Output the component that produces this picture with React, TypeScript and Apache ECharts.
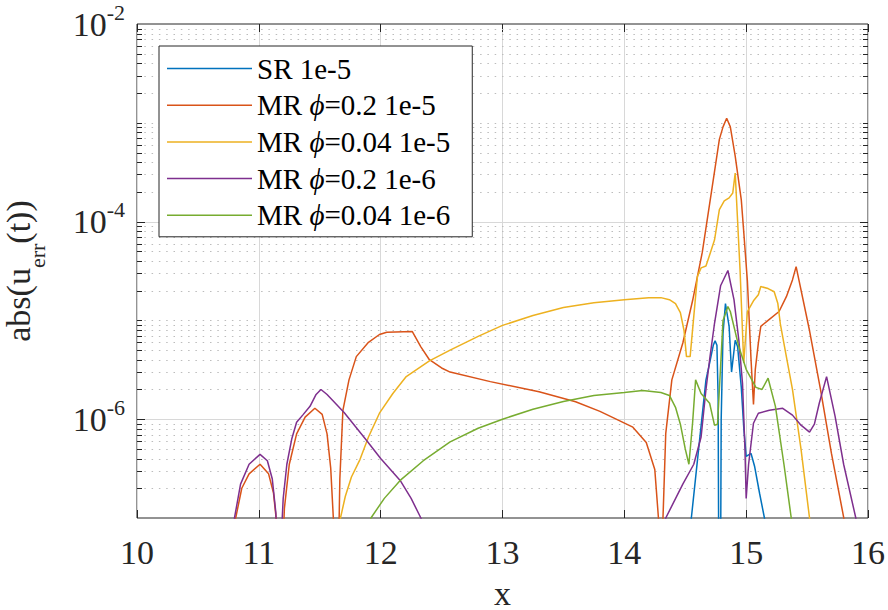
import React, { useEffect, useRef } from 'react';
import * as echarts from 'echarts';

const FONT = "'Liberation Serif', 'DejaVu Serif', serif";

const seriesNames = ['SR 1e-5', 'MR ϕ=0.2 1e-5', 'MR ϕ=0.04 1e-5', 'MR ϕ=0.2 1e-6', 'MR ϕ=0.04 1e-6'];
const seriesColors = ['#0072BD', '#D95319', '#EDB120', '#7E2F8E', '#77AC30'];
const xTickValues = [10, 11, 12, 13, 14, 15, 16];
const yLabelledDecades = [-6, -4, -2];

const srData: [number, number][] = [
  [14.53, 5e-8], [14.55, 1e-7], [14.61, 5e-7], [14.67, 2.5e-6], [14.7, 3.7e-6], [14.73, 5.6e-6],
  [14.745, 6.2e-6], [14.76, 5.6e-6], [14.77, 1.6e-6], [14.775, 3.2e-8], [14.79, 3.2e-8], [14.795, 1e-6],
  [14.81, 7.4e-6], [14.83, 1.48e-5], [14.86, 8.7e-6], [14.88, 3.0e-6], [14.91, 6.3e-6], [14.93, 5.4e-6],
  [14.96, 2.1e-6], [14.98, 8.3e-7], [15.0, 4.2e-7], [15.04, 4.5e-7], [15.07, 3.3e-7], [15.11, 1.78e-7],
  [15.15, 1e-7], [15.17, 6.3e-8],
];

const mr02e5Data: [number, number][] = [
  [10.78, 3.2e-8], [10.81, 1e-7], [10.86, 2.0e-7], [10.92, 2.8e-7], [11.01, 3.5e-7], [11.08, 2.8e-7],
  [11.12, 1.8e-7], [11.15, 8e-8], [11.17, 1.6e-8], [11.19, 3.2e-8], [11.21, 1.26e-7], [11.25, 3.5e-7],
  [11.31, 7.1e-7], [11.38, 1.05e-6], [11.46, 1.29e-6], [11.52, 1.12e-6], [11.56, 7.1e-7], [11.59, 3.2e-7],
  [11.62, 6.3e-8], [11.635, 1e-8], [11.655, 5e-8], [11.665, 2.5e-7], [11.69, 1.23e-6], [11.74, 2.5e-6],
  [11.8, 4.3e-6], [11.9, 6.0e-6], [11.99, 7.2e-6], [12.05, 7.6e-6], [12.26, 7.7e-6], [12.33, 5.4e-6],
  [12.4, 4.0e-6], [12.5, 3.3e-6], [12.57, 3.0e-6], [12.9, 2.4e-6], [13.3, 1.9e-6], [13.6, 1.5e-6],
  [13.8, 1.2e-6], [14.07, 8.3e-7], [14.18, 5.8e-7], [14.25, 3.1e-7], [14.28, 1e-7], [14.3, 2.5e-8],
  [14.32, 1.26e-7], [14.34, 7.2e-7], [14.39, 2.5e-6], [14.48, 5.9e-6], [14.56, 1.58e-5], [14.64, 4.9e-5],
  [14.72, 2.2e-4], [14.78, 6.8e-4], [14.81, 9.1e-4], [14.84, 1.11e-3], [14.87, 9.1e-4], [14.91, 4.6e-4],
  [14.96, 1.66e-4], [14.98, 7.9e-5], [15.01, 2.5e-5], [15.04, 4.0e-6], [15.06, 1.41e-6], [15.075, 3.2e-6],
  [15.1, 5.9e-6], [15.12, 8.7e-6], [15.18, 1.0e-5], [15.27, 1.23e-5], [15.33, 1.74e-5], [15.38, 2.57e-5],
  [15.41, 3.5e-5], [15.52, 7.9e-6], [15.61, 2.0e-6], [15.7, 4.5e-7], [15.8, 1.02e-7], [15.84, 5e-8],
];

const mr004e5Data: [number, number][] = [
  [11.655, 5e-8], [11.67, 1e-7], [11.71, 1.66e-7], [11.76, 2.6e-7], [11.83, 3.9e-7], [11.9, 6.6e-7],
  [11.99, 1.15e-6], [12.1, 1.82e-6], [12.21, 2.7e-6], [12.4, 3.9e-6], [12.57, 5.0e-6], [12.8, 6.9e-6],
  [13.0, 8.9e-6], [13.25, 1.12e-5], [13.5, 1.35e-5], [13.75, 1.51e-5], [14.0, 1.62e-5], [14.2, 1.7e-5],
  [14.3, 1.7e-5], [14.37, 1.62e-5], [14.42, 1.48e-5], [14.46, 1.2e-5], [14.49, 7.9e-6], [14.51, 4.3e-6],
  [14.54, 4.3e-6], [14.57, 1.1e-5], [14.6, 2.8e-5], [14.63, 3.4e-5], [14.67, 3.55e-5], [14.71, 5.0e-5],
  [14.74, 6.5e-5], [14.78, 1.32e-4], [14.82, 1.62e-4], [14.86, 1.74e-4], [14.89, 1.95e-4], [14.91, 3.1e-4],
  [14.95, 3.2e-5], [14.98, 3.7e-6], [15.01, 1.23e-5], [15.06, 1.58e-5], [15.1, 1.82e-5], [15.12, 2.2e-5],
  [15.18, 2.1e-5], [15.23, 1.95e-5], [15.26, 1.48e-5], [15.28, 9.3e-6], [15.32, 5.0e-6], [15.38, 2.0e-6],
  [15.45, 5.0e-7], [15.52, 1e-7], [15.55, 5e-8],
];

const mr02e6Data: [number, number][] = [
  [10.78, 3.2e-8], [10.8, 1e-7], [10.85, 2.2e-7], [10.92, 3.5e-7], [11.01, 4.4e-7], [11.07, 3.8e-7],
  [11.11, 2.5e-7], [11.14, 1.12e-7], [11.16, 1.6e-8], [11.18, 5e-8], [11.2, 1.58e-7], [11.23, 3.5e-7],
  [11.27, 6.3e-7], [11.31, 9.3e-7], [11.36, 1.1e-6], [11.42, 1.35e-6], [11.47, 1.78e-6], [11.51, 2.0e-6],
  [11.56, 1.78e-6], [11.7, 1.17e-6], [11.88, 6.2e-7], [12.0, 4.0e-7], [12.16, 2.4e-7], [12.25, 1.58e-7],
  [12.33, 1e-7], [12.38, 7e-8], [14.3, 6.3e-8], [14.34, 1e-7], [14.48, 2.2e-7], [14.57, 3.5e-7],
  [14.63, 6.6e-7], [14.67, 2.0e-6], [14.7, 4.0e-6], [14.74, 9.3e-6], [14.79, 2.24e-5], [14.85, 3.2e-5],
  [14.9, 1.62e-5], [14.94, 6.3e-6], [14.97, 2.3e-6], [14.99, 5e-7], [15.0, 1.58e-7], [15.02, 3.5e-7],
  [15.06, 9.1e-7], [15.1, 1.15e-6], [15.19, 1.23e-6], [15.3, 1.29e-6], [15.38, 1.1e-6], [15.45, 8.7e-7],
  [15.52, 7.4e-7], [15.56, 8.9e-7], [15.6, 1.45e-6], [15.66, 2.7e-6], [15.73, 1.07e-6], [15.8, 3.5e-7],
  [15.9, 1e-7], [15.93, 6.3e-8],
];

const mr004e6Data: [number, number][] = [
  [11.9, 5e-8], [11.92, 1e-7], [12.03, 1.58e-7], [12.16, 2.4e-7], [12.35, 3.8e-7], [12.57, 5.9e-7],
  [12.8, 8.1e-7], [13.0, 1.0e-6], [13.25, 1.26e-6], [13.5, 1.51e-6], [13.75, 1.74e-6], [14.0, 1.86e-6],
  [14.15, 1.95e-6], [14.3, 1.86e-6], [14.37, 1.74e-6], [14.42, 1.32e-6], [14.46, 8.9e-7], [14.5, 5.0e-7],
  [14.53, 3.5e-7], [14.56, 9.1e-7], [14.585, 2.5e-6], [14.63, 1.82e-6], [14.7, 1.45e-6], [14.74, 8.7e-7],
  [14.765, 8.9e-7], [14.81, 1.0e-5], [14.85, 1.38e-5], [14.87, 1.23e-5], [14.94, 5.4e-6], [15.0, 3.2e-6],
  [15.08, 2.1e-6], [15.13, 2.0e-6], [15.18, 2.6e-6], [15.24, 1.35e-6], [15.31, 3.5e-7], [15.37, 1e-7],
  [15.39, 6.3e-8],
];

const allData = [srData, mr02e5Data, mr004e5Data, mr02e6Data, mr004e6Data];

export default function App() {
  const ref = useRef<HTMLDivElement>(null);

  useEffect(() => {
    if (!ref.current) return;
    const chart = echarts.init(ref.current, null, { renderer: 'svg' });

    const xMin = xTickValues[0];
    const xMax = xTickValues[xTickValues.length - 1];
    const yMin = 1e-7;
    const yMax = 1e-2;

    // y grid levels: [xMin, level, isMajor]
    const levels: [number, number, number][] = [];
    for (let e = -7; e < -2; e++) {
      for (let k = 1; k <= 9; k++) {
        const v = k * Math.pow(10, e);
        if (k === 1) {
          if (e === -7) continue;
          levels.push([xMin, v, yLabelledDecades.includes(e) ? 1 : 0]);
        } else {
          levels.push([xMin, v, 0]);
        }
      }
    }

    const renderGrid = (_params: any, api: any) => {
      const v = api.value(1);
      const major = api.value(2) === 1;
      const l = api.coord([xMin, v]);
      const r = api.coord([xMax, v]);
      const y = Math.round(l[1]) + 0.5;
      const len = major ? 8 : 5;
      return {
        type: 'group',
        children: [
          {
            type: 'line',
            shape: { x1: l[0], y1: y, x2: r[0], y2: y },
            style: major
              ? { stroke: '#d8d8d8', lineWidth: 1 }
              : { stroke: '#bcbcbc', lineWidth: 1, lineDash: [1.5, 5.8] },
          },
          {
            type: 'line',
            shape: { x1: l[0], y1: y, x2: l[0] + len, y2: y },
            style: { stroke: '#262626', lineWidth: 1 },
          },
          {
            type: 'line',
            shape: { x1: r[0], y1: y, x2: r[0] - len, y2: y },
            style: { stroke: '#262626', lineWidth: 1 },
          },
        ],
      };
    };

    const legendFormatter = (name: string) => {
      const parts = name.split('ϕ');
      if (parts.length === 1) return `{t|${name}}`;
      return `{t|${parts[0]}}{p|ϕ}{t|${parts[1]}}`;
    };

    const option: any = {
      animation: false,
      backgroundColor: '#ffffff',
      textStyle: { fontFamily: FONT },
      grid: {
        left: 137,
        top: 24,
        width: 731,
        height: 494,
        show: true,
        borderColor: '#262626',
        borderWidth: 1,
        backgroundColor: 'transparent',
        containLabel: false,
        outerBoundsMode: 'none',
      },
      legend: {
        data: seriesNames,
        orient: 'vertical',
        left: 159,
        top: 46,
        padding: [8, 22, 7, 8],
        itemGap: 7.7,
        itemWidth: 85,
        itemHeight: 1.5,
        icon: 'rect',
        backgroundColor: '#ffffff',
        borderColor: '#262626',
        borderWidth: 1,
        borderRadius: 0,
        selectedMode: false,
        formatter: legendFormatter,
        textStyle: {
          fontFamily: FONT,
          fontSize: 29,
          color: '#000000',
          rich: {
            t: { fontFamily: FONT, fontSize: 29, color: '#000000' },
            p: { fontFamily: FONT, fontSize: 29, fontStyle: 'italic', color: '#000000' },
          },
        },
      },
      xAxis: [
        {
          type: 'value',
          min: xMin,
          max: xMax,
          interval: 1,
          name: 'x',
          nameLocation: 'middle',
          nameGap: 62,
          nameTextStyle: { fontFamily: FONT, fontSize: 34, lineHeight: 26, color: '#262626' },
          axisLine: { show: false },
          axisTick: { show: true, inside: true, length: 8, lineStyle: { color: '#262626', width: 1 } },
          axisLabel: { margin: 17, fontFamily: FONT, fontSize: 34, color: '#262626' },
          splitLine: { show: true, lineStyle: { color: '#d8d8d8', width: 1 } },
        },
        {
          type: 'value',
          position: 'top',
          min: xMin,
          max: xMax,
          interval: 1,
          axisLine: { show: false },
          axisTick: { show: true, inside: true, length: 8, lineStyle: { color: '#262626', width: 1 } },
          axisLabel: { show: false },
          splitLine: { show: false },
        },
      ],
      yAxis: {
        type: 'log',
        logBase: 10,
        min: yMin,
        max: yMax,
        axisLine: { show: false },
        axisTick: { show: false },
        splitLine: { show: false },
        axisLabel: {
          margin: 12,
          formatter: (v: number) => {
            const e = Math.round(Math.log10(v));
            return yLabelledDecades.includes(e) ? `{b|10}{e|${e}}` : '';
          },
          rich: {
            b: { fontFamily: FONT, fontSize: 34, lineHeight: 34, color: '#262626', verticalAlign: 'bottom' },
            e: {
              fontFamily: FONT,
              fontSize: 22,
              lineHeight: 20,
              color: '#262626',
              verticalAlign: 'bottom',
              padding: [0, 0, 18, 0],
            },
          },
        },
        name: '{n|abs(u}{s|err}{n|(t))}',
        nameLocation: 'middle',
        nameRotate: 90,
        nameGap: 102,
        nameTextStyle: {
          rich: {
            n: { fontFamily: FONT, fontSize: 34, lineHeight: 34, color: '#262626', verticalAlign: 'top' },
            s: {
              fontFamily: FONT,
              fontSize: 22,
              lineHeight: 22,
              color: '#262626',
              verticalAlign: 'top',
              padding: [25, 0, 0, 0],
            },
          },
        },
      },
      series: [
        {
          type: 'custom',
          name: '__grid__',
          data: levels,
          encode: { x: 0, y: 1 },
          renderItem: renderGrid,
          silent: true,
          clip: false,
          z: 1,
        },
        ...allData.map((d, i) => ({
          type: 'line',
          name: seriesNames[i],
          data: d,
          symbol: 'none',
          showSymbol: false,
          clip: true,
          silent: true,
          z: 2 + i,
          color: seriesColors[i],
          lineStyle: { width: 1.5, color: seriesColors[i] },
          itemStyle: { color: seriesColors[i] },
        })),
      ],
    };

    chart.setOption(option);
    return () => {
      chart.dispose();
    };
  }, []);

  return (
    <div
      ref={ref}
      style={{ position: 'absolute', left: 0, top: 0, width: 888, height: 610 }}
    />
  );
}
